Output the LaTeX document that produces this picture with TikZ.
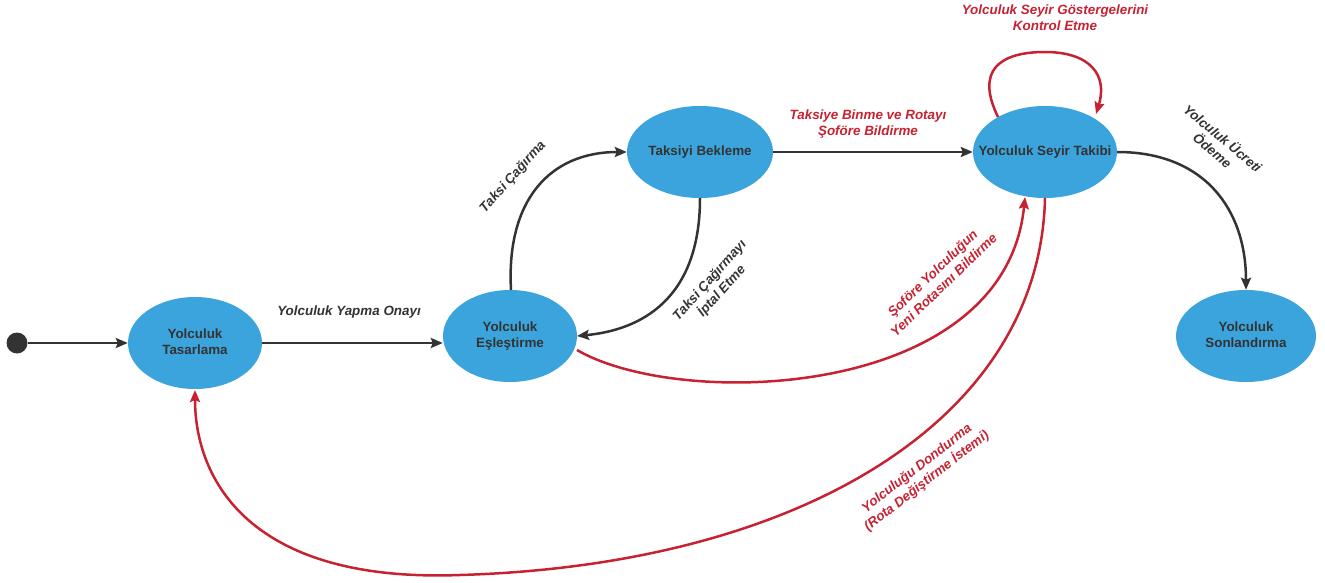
\documentclass[tikz,border=0pt]{standalone}
\usepackage{fontspec}
\setmainfont{Liberation Sans}
\usetikzlibrary{arrows.meta,shapes.geometric}
\definecolor{stblue}{HTML}{3BA4DC}
\definecolor{txtdark}{HTML}{333333}
\definecolor{edred}{HTML}{C62232}
\newcommand{\ctext}[1]{\makebox[0pt][c]{\begin{tabular}{@{}c@{}}#1\end{tabular}}}
\tikzset{
  state/.style={ellipse, fill=stblue, draw=none, minimum width=#1, minimum height=92pt, inner sep=0pt,
    font=\fontsize{13.4}{16}\selectfont\bfseries, text=txtdark},
  blk/.style={draw=txtdark, line width=2.5pt, -{Stealth[length=12pt,width=10pt,inset=2pt]}},
  rd/.style={draw=edred, line width=2.5pt, -{Stealth[length=12pt,width=10pt,inset=2pt]}},
  lbl/.style={font=\fontsize{13.4}{16}\selectfont\bfseries\itshape, align=center, text=txtdark, inner sep=0pt},
  rlbl/.style={lbl, text=edred},
}
\begin{document}
\begin{tikzpicture}[x=1pt,y=-1pt]
\useasboundingbox (0,0) rectangle (1325,583);
\node[circle, fill=txtdark, minimum size=21pt, inner sep=0pt] (s) at (17,343) {};
\node[state=134pt] (t) at (195,343) {\ctext{Yolculuk\\Tasarlama}};
\node[state=134pt] (e) at (510,336) {\ctext{Yolculuk\\Eşleştirme}};
\node[state=146pt] (b) at (700,152) {\ctext{Taksiyi Bekleme}};
\node[state=144pt] (k) at (1045,152) {\ctext{Yolculuk Seyir Takibi}};
\node[state=140pt] (n) at (1246,336) {\ctext{Yolculuk\\Sonlandırma}};

\coordinate (eN) at (511,290);
\coordinate (eE) at (577,336);
\coordinate (eSE) at (577,350);
\coordinate (bS) at (700,198);
\coordinate (kS) at (1045,198);
\coordinate (kSW) at (1025,197);
\coordinate (kL) at (998,117);
\coordinate (kR) at (1096,114);
\coordinate (tS) at (195,390);

\draw[blk] (s) -- (t);
\draw[blk] (t.east |- 0,343) -- (e.west |- 0,343);
\draw[blk] (eN) .. controls (506,200) and (550,152) .. (b.west);
\draw[blk] (bS) .. controls (700,300) and (640,330) .. (eE);
\draw[blk] (b) -- (k);
\draw[blk] (k.east) .. controls (1205,152) and (1246,210) .. (n.north);
\draw[rd] (eSE) .. controls (680,410) and (1005,400) .. (kSW);
\draw[rd] (kS) .. controls (1040,420) and (800,565) .. (460,575) .. controls (250,583) and (195,480) .. (tS);
\draw[rd] (kL) .. controls (975,70) and (1000,52) .. (1045,52) .. controls (1090,52) and (1108,75) .. (kR);

\node[lbl] (l1) at (349,312) {Yolculuk Yapma Onayı};
\node[lbl, rotate=48] (l2) at (513,177) {Taksi Çağırma};
\node[lbl, rotate=48] (l3) at (716,286) {Taksi Çağırmayı\\İptal Etme};
\node[rlbl] (l4) at (868,124) {Taksiye Binme ve Rotayı\\Şoföre Bildirme};
\node[rlbl, rotate=44] (l5) at (938,279) {Şoföre Yolculuğun\\Yeni Rotasını Bildirme};
\node[rlbl, rotate=38] (l6) at (922,475) {Yolculuğu Dondurma\\(Rota Değiştirme İstemi)};
\node[rlbl] (l7) at (1055,18) {Yolculuk Seyir Göstergelerini\\Kontrol Etme};
\node[lbl, rotate=-40] (l8) at (1218,144) {Yolculuk Ücreti\\Ödeme};
\end{tikzpicture}
\end{document}
